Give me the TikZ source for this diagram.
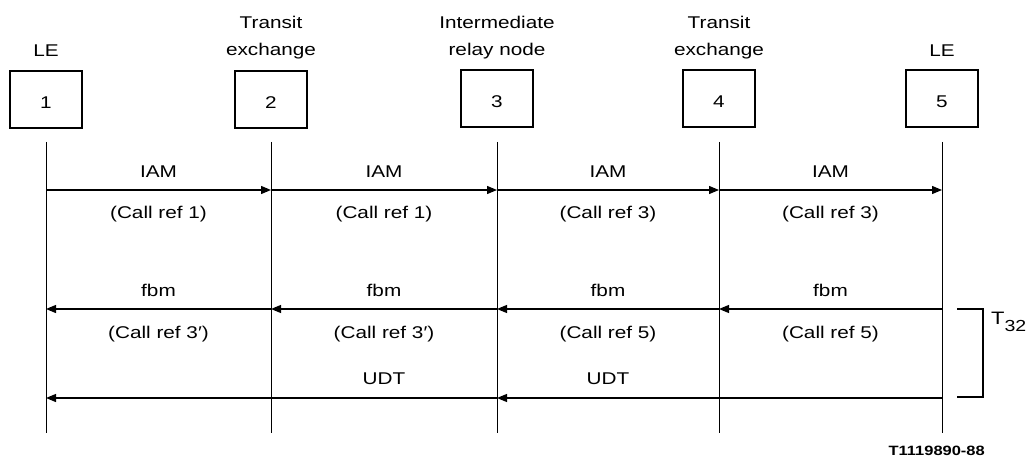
\documentclass[tikz,border=0pt]{standalone}
\usepackage{fontspec}
\setmainfont[FakeStretch=1.22]{Liberation Sans}
\usetikzlibrary{arrows.meta,calc}
\begin{document}
\begin{tikzpicture}[x=1pt,y=-1pt,
  font=\fontsize{17}{20}\selectfont,
  entity/.style={draw,line width=1.8pt,minimum width=72pt,minimum height=57pt,inner sep=0pt},
  lifeline/.style={line width=0.9pt},
  msg/.style={line width=1.2pt,-{Triangle[length=10pt,width=8pt]}},
  lbl/.style={inner sep=0pt,text height=12pt,text depth=0pt},
  head/.style={inner sep=0pt,anchor=base},
  bracket/.style={line width=1.4pt}]
\useasboundingbox (0,0) rectangle (1028,468);

% entities
\node[entity] (b1) at (46,99.5) {};
\node[entity] (b2) at (271,99.5) {};
\node[entity] (b3) at (497,98.5) {};
\node[entity] (b4) at (719,98.5) {};
\node[entity] (b5) at (942,98.5) {};
\foreach \i in {1,...,5}{\node[lbl,yshift=-3pt] (n\i) at (b\i) {\i};}

% headings
\node[head] (h1) at (46,57) {LE};
\node[head] (h2a) at (271,29) {Transit};
\node[head] (h2b) at (271,56) {exchange};
\node[head] (h3a) at (497,29) {Intermediate};
\node[head] (h3b) at (497,56) {relay node};
\node[head] (h4a) at (719,29) {Transit};
\node[head] (h4b) at (719,56) {exchange};
\node[head] (h5) at (942,57) {LE};

% row coordinates
\coordinate (top) at (0,142);
\coordinate (bot) at (0,433);
\coordinate (iam) at (0,190);
\coordinate (fbm) at (0,309);
\coordinate (udt) at (0,398);

% lifelines
\foreach \i in {1,...,5}{\draw[lifeline] (b\i|-top) -- (b\i|-bot);}

% IAM row
\draw[msg] (b1|-iam) -- node[lbl,yshift=18pt]{IAM} node[lbl,yshift=-22pt]{(Call ref 1)} (b2|-iam);
\draw[msg] (b2|-iam) -- node[lbl,yshift=18pt]{IAM} node[lbl,yshift=-22pt]{(Call ref 1)} (b3|-iam);
\draw[msg] (b3|-iam) -- node[lbl,yshift=18pt]{IAM} node[lbl,yshift=-22pt]{(Call ref 3)} (b4|-iam);
\draw[msg] (b4|-iam) -- node[lbl,yshift=18pt]{IAM} node[lbl,yshift=-22pt]{(Call ref 3)} (b5|-iam);

% fbm row
\draw[msg] (b5|-fbm) -- node[lbl,yshift=19pt]{fbm} node[lbl,yshift=-23pt]{(Call ref 5)} (b4|-fbm);
\draw[msg] (b4|-fbm) -- node[lbl,yshift=19pt]{fbm} node[lbl,yshift=-23pt]{(Call ref 5)} (b3|-fbm);
\draw[msg] (b3|-fbm) -- node[lbl,yshift=19pt]{fbm} node[lbl,yshift=-23pt]{(Call ref 3′)} (b2|-fbm);
\draw[msg] (b2|-fbm) -- node[lbl,yshift=19pt]{fbm} node[lbl,yshift=-23pt]{(Call ref 3′)} (b1|-fbm);

% UDT row
\draw[msg] (b5|-udt) -- (b3|-udt);
\draw[msg] (b3|-udt) -- (b1|-udt);
\node[lbl,yshift=20pt] (u1) at ($(b3|-udt)!0.5!(b4|-udt)$) {UDT};
\node[lbl,yshift=20pt] (u2) at ($(b2|-udt)!0.5!(b3|-udt)$) {UDT};

% T32 bracket
\coordinate (brt) at (957,309);
\coordinate (brb) at (957,397);
\coordinate (brx) at (983,0);
\draw[bracket] (brt) -| (brx|-brb) -- (brb);
\node[inner sep=0pt,anchor=base west] (t32) at (991,324) {\fontsize{18}{18}\selectfont T\raisebox{-7pt}{\fontsize{16}{16}\selectfont 32}};

% figure id
\node[inner sep=0pt,anchor=base east,font=\fontsize{13.5}{14}\selectfont\bfseries] (fid) at (985,455) {T1119890-88};
\end{tikzpicture}
\end{document}
